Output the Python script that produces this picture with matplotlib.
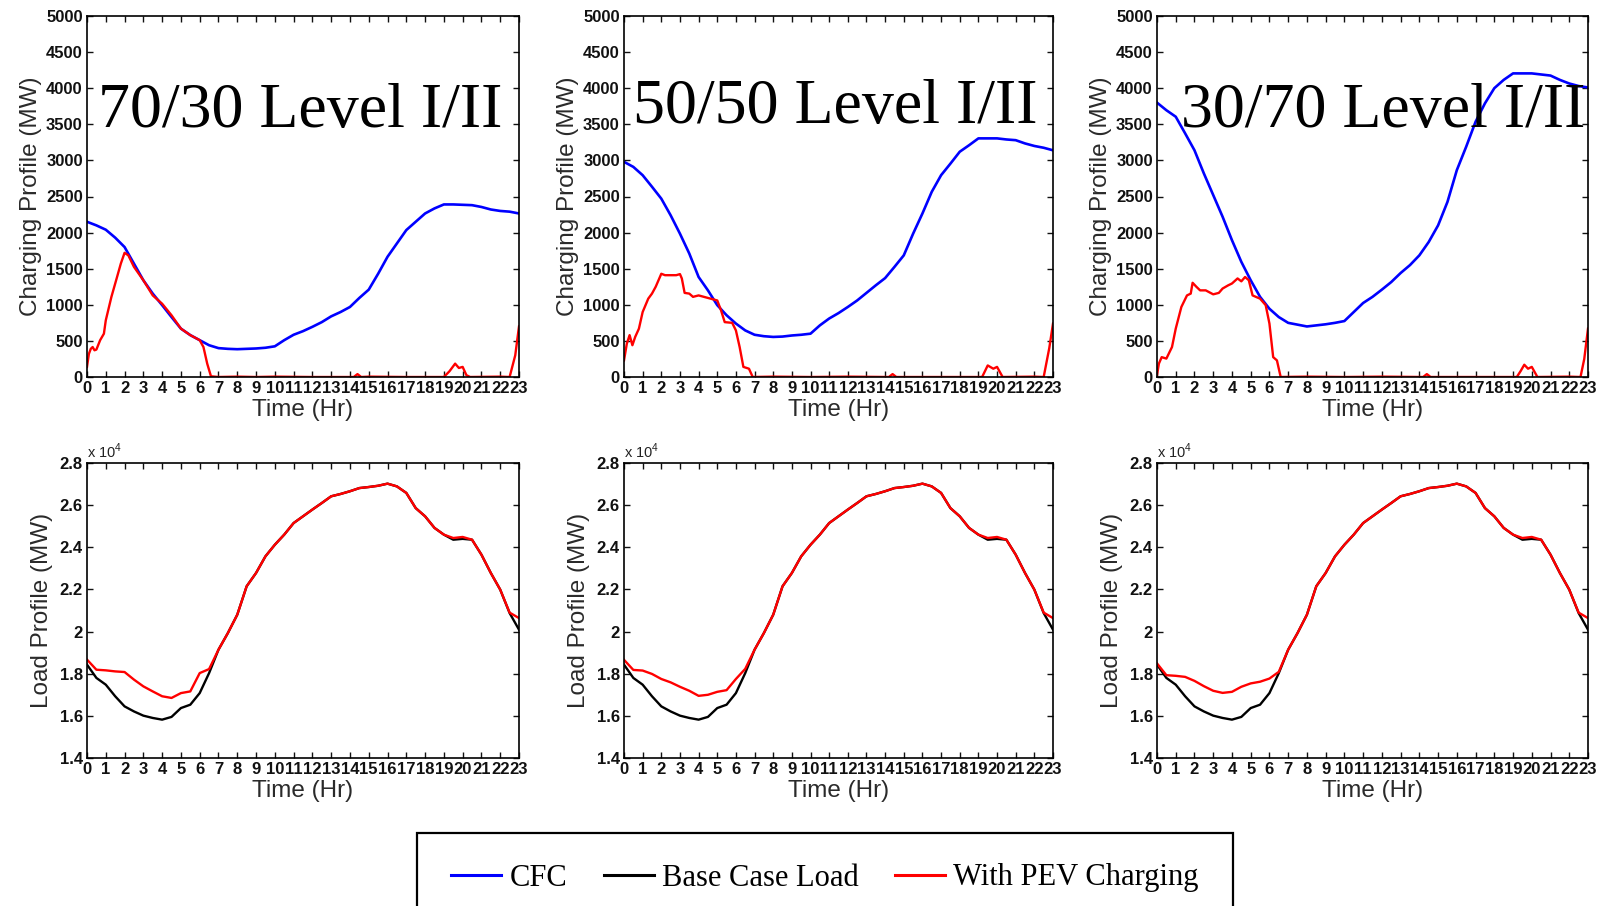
import numpy as np
import matplotlib
matplotlib.use("Agg")
import matplotlib.pyplot as plt
from matplotlib.lines import Line2D
from matplotlib.patches import Rectangle
from matplotlib.ticker import FuncFormatter

plt.rcParams['font.family'] = ['Liberation Sans', 'DejaVu Sans']
plt.rcParams['mathtext.fontset'] = 'custom'
plt.rcParams['mathtext.rm'] = 'Liberation Sans'

# half-hour grid, 0..23 h
hours = np.arange(0, 23.5, 0.5)

scenarios = ['70/30 Level I/II', '50/50 Level I/II', '30/70 Level I/II']

# CFC charging profile (MW), sampled every half hour
cfc_70_30 = [2150, 2100, 2040, 1930, 1800, 1570, 1340, 1155, 995, 830, 670, 580, 510, 440,
             400, 390, 385, 390, 395, 405, 425, 510, 585, 635, 695, 760, 840, 900, 970, 1095,
             1210, 1430, 1665, 1850, 2035, 2150, 2265, 2335, 2390, 2390, 2385, 2380, 2355,
             2320, 2300, 2290, 2265]
cfc_50_50 = [2980, 2910, 2795, 2635, 2470, 2240, 1985, 1710, 1385, 1200, 995, 855, 740, 645,
             585, 565, 555, 560, 575, 585, 600, 715, 810, 885, 970, 1060, 1165, 1270, 1370,
             1525, 1685, 1985, 2265, 2565, 2795, 2955, 3120, 3210, 3305, 3305, 3305, 3290,
             3280, 3235, 3200, 3175, 3140]
cfc_30_70 = [3800, 3695, 3605, 3375, 3140, 2820, 2520, 2220, 1895, 1595, 1340, 1110, 945, 830,
             750, 725, 700, 715, 730, 750, 775, 900, 1025, 1110, 1210, 1315, 1440, 1550, 1685,
             1870, 2100, 2425, 2865, 3190, 3535, 3790, 4000, 4115, 4205, 4205, 4205, 4190,
             4175, 4115, 4065, 4030, 4010]

# PEV (level I/II) charging profile (MW), irregular samples
pev_hr_70_30 = [0, 0.1, 0.2, 0.3, 0.4, 0.5, 0.7, 0.9, 1.0, 1.3, 1.6, 1.8, 2.0, 2.2, 2.5, 3.0,
                3.5, 4.0, 4.5, 5.0, 5.5, 6.0, 6.2, 6.4, 6.6, 7.0, 8.0, 9.0, 10.0, 12.0, 14.2,
                14.4, 14.6, 15.0, 17.0, 19.0, 19.3, 19.6, 19.8, 20.0, 20.2, 20.4, 22.0, 22.5,
                22.8, 23.0]
pev_mw_70_30 = [140, 320, 390, 415, 370, 380, 510, 600, 785, 1110, 1385, 1570, 1720, 1685,
                1525, 1340, 1130, 1015, 855, 670, 580, 510, 415, 185, 10, 0, 5, 0, 5, 0, 0,
                40, 0, 5, 0, 0, 80, 185, 125, 140, 25, 0, 5, 0, 300, 700]
pev_hr_50_50 = [0, 0.15, 0.3, 0.45, 0.6, 0.8, 1.0, 1.3, 1.5, 1.7, 2.0, 2.2, 2.5, 2.8, 3.0,
                3.1, 3.25, 3.5, 3.7, 4.0, 4.5, 5.0, 5.2, 5.4, 5.8, 6.0, 6.2, 6.4, 6.7, 6.9,
                8.0, 10.0, 12.0, 14.2, 14.4, 14.6, 17.0, 19.2, 19.5, 19.8, 20.0, 20.3, 22.0,
                22.5, 22.8, 23.0]
pev_mw_50_50 = [230, 460, 580, 440, 555, 670, 900, 1085, 1155, 1250, 1430, 1410, 1410, 1410,
                1425, 1365, 1165, 1155, 1110, 1130, 1095, 1060, 925, 760, 750, 645, 415, 140,
                115, 0, 5, 0, 5, 0, 40, 0, 0, 0, 160, 115, 140, 0, 5, 0, 400, 740]
pev_hr_30_70 = [0, 0.1, 0.25, 0.5, 0.8, 1.0, 1.3, 1.6, 1.8, 1.9, 2.1, 2.3, 2.6, 3.0, 3.3,
                3.5, 3.8, 4.0, 4.3, 4.5, 4.7, 4.9, 5.1, 5.5, 5.8, 6.0, 6.2, 6.4, 6.6, 8.0,
                10.0, 12.0, 14.2, 14.4, 14.6, 17.0, 19.2, 19.4, 19.6, 19.8, 20.0, 20.3, 22.0,
                22.6, 22.8, 23.0]
pev_mw_30_70 = [25, 185, 275, 255, 415, 670, 970, 1130, 1155, 1305, 1250, 1200, 1200, 1145,
                1165, 1225, 1270, 1295, 1365, 1325, 1385, 1340, 1130, 1085, 995, 740, 275,
                230, 0, 5, 0, 5, 0, 40, 0, 0, 0, 80, 170, 115, 140, 0, 5, 0, 250, 670]

# system load (MW), half-hour samples
base_load = [18430, 17800, 17480, 16930, 16450, 16210, 16010, 15900, 15820, 15950, 16370,
             16530, 17080, 18030,
             19140, 19930, 20800, 22150, 22780, 23570, 24120, 24600, 25150, 25470, 25790,
             26100, 26420, 26530, 26660, 26810, 26860, 26920, 27020, 26890, 26580, 25860,
             25470, 24920, 24600, 24360, 24400, 24360, 23650, 22780, 21990, 20880, 20090]
# load with PEV charging: 0..6.5 h differs per scenario, 7..23 h shared
pev_morning_70_30 = [18670, 18190, 18160, 18110, 18080, 17720, 17400, 17160, 16930, 16850,
                     17080, 17160, 18030, 18220]
pev_morning_50_50 = [18660, 18180, 18150, 17990, 17750, 17590, 17380, 17190, 16950, 17000,
                     17140, 17220, 17750, 18230]
pev_morning_30_70 = [18490, 17930, 17900, 17850, 17660, 17410, 17190, 17090, 17140, 17380,
                     17540, 17620, 17770, 18090]
pev_tail = [19140, 19930, 20800, 22150, 22780, 23570, 24120, 24600, 25150, 25470, 25790,
            26100, 26420, 26530, 26660, 26810, 26860, 26920, 27020, 26890, 26580, 25860,
            25470, 24920, 24600, 24440, 24490, 24360, 23650, 22780, 21990, 20900, 20640]

cfc_all = [cfc_70_30, cfc_50_50, cfc_30_70]
pev_hr_all = [pev_hr_70_30, pev_hr_50_50, pev_hr_30_70]
pev_mw_all = [pev_mw_70_30, pev_mw_50_50, pev_mw_30_70]
pev_morning_all = [pev_morning_70_30, pev_morning_50_50, pev_morning_30_70]

W, H = 1604, 906
fig = plt.figure(figsize=(W / 100, H / 100), dpi=100)
fig.patch.set_facecolor('white')

cols = [(87, 519), (624, 1053), (1157, 1588)]
top_row = (16, 377)
bot_row = (463, 758)
title_pos = [(98, 127), (633, 123), (1181, 127)]

BLUE = '#0000ff'
RED = '#ff0000'
LABEL_C = '#2a2a2a'


def make_ax(x0, x1, y0, y1):
    return fig.add_axes([x0 / W, 1 - y1 / H, (x1 - x0) / W, (y1 - y0) / H])


def style(ax):
    ax.set_xlim(0, 23)
    ax.set_xticks(range(0, 24))
    ax.tick_params(direction='in', length=4.5, width=1.0, top=True, right=True,
                   labelsize=12, pad=3, colors='#111111')
    for lab in ax.get_xticklabels() + ax.get_yticklabels():
        lab.set_fontweight('bold')
    for s in ax.spines.values():
        s.set_linewidth(1.2)
    ax.set_xlabel('Time (Hr)', fontsize=17.5, color=LABEL_C, labelpad=2)


for i in range(3):
    x0, x1 = cols[i]
    # charging profiles
    ax = make_ax(x0, x1, *top_row)
    ax.plot(hours, cfc_all[i], color=BLUE, lw=1.9)
    ax.plot(pev_hr_all[i], pev_mw_all[i], color=RED, lw=1.7)
    ax.set_ylim(0, 5000)
    ax.set_yticks(range(0, 5001, 500))
    style(ax)
    ax.set_ylabel('Charging Profile (MW)', fontsize=17.5, color=LABEL_C, labelpad=3)
    tx, ty = title_pos[i]
    fig.text(tx / W, 1 - ty / H, scenarios[i], fontsize=46, family='Liberation Serif',
             va='baseline', ha='left', zorder=10)

    # load profiles
    ax = make_ax(x0, x1, *bot_row)
    ax.plot(hours, base_load, color='black', lw=1.7)
    ax.plot(hours, pev_morning_all[i] + pev_tail, color=RED, lw=1.7)
    ax.set_ylim(14000, 28000)
    ax.set_yticks(range(14000, 28001, 2000))
    ax.yaxis.set_major_formatter(FuncFormatter(lambda v, p: '%g' % (v / 1e4)))
    style(ax)
    ax.set_ylabel('Load Profile (MW)', fontsize=17.5, color=LABEL_C, labelpad=5)
    ax.text(0.0, 1.008, r'x 10$^{4}$', transform=ax.transAxes, fontsize=10.5,
            ha='left', va='bottom', color='#222222')

# legend box (bottom edge runs off the figure)
fig.patches.append(Rectangle((417 / W, -0.05), (1233 - 417) / W, 0.05 + 1 - 833 / H,
                             transform=fig.transFigure, fill=False, edgecolor='black',
                             linewidth=1.6, zorder=5))
handles = [Line2D([], [], color=BLUE, lw=2.2),
           Line2D([], [], color='black', lw=2.2),
           Line2D([], [], color=RED, lw=2.2)]
fig.legend(handles, ['CFC', 'Base Case Load', 'With PEV Charging'], ncol=3,
           loc='center', bbox_to_anchor=(825 / W, 1 - 878 / H), frameon=False,
           prop={'family': 'Liberation Serif', 'size': 22}, handlelength=1.64,
           handletextpad=0.26, columnspacing=1.2)

fig.savefig('out.png', dpi=100, facecolor='white')
